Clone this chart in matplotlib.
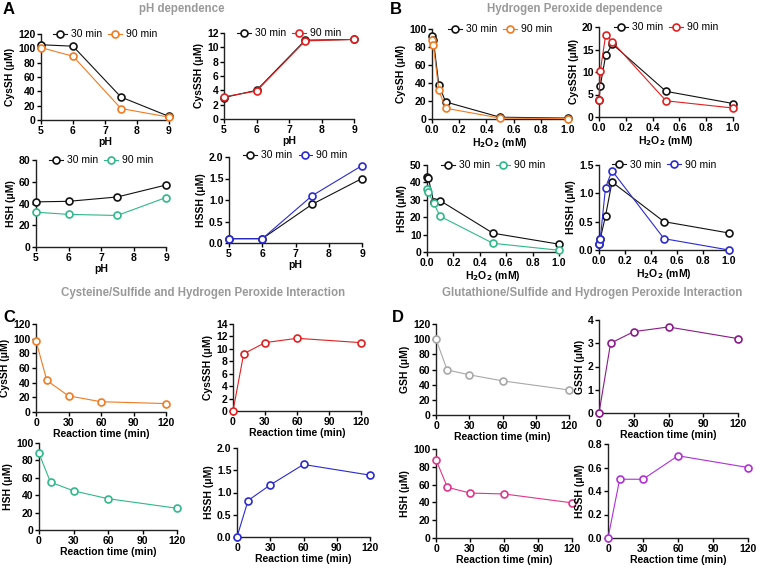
import matplotlib
matplotlib.use("Agg")
import matplotlib.pyplot as plt

plt.rcParams["font.family"] = ["Liberation Sans", "DejaVu Sans"]
plt.rcParams["font.size"] = 7.5

# ---- data ----
ph = [5, 6, 7.5, 9]
h2o2 = [0, 0.01, 0.05, 0.1, 0.5, 1.0]
rtime = [0, 10, 30, 60, 120]

a_cyssh_30 = [105, 103, 32, 5]
a_cyssh_90 = [101, 89, 16, 4]
a_cysssh_30 = [3.0, 4.0, 11.0, 11.1]
a_cysssh_90 = [3.1, 3.9, 10.9, 11.1]
a_hsh_30 = [41.5, 42, 46, 57]
a_hsh_90 = [32, 30, 29, 45.5]
a_hssh_30 = [0.1, 0.1, 0.9, 1.5]
a_hssh_90 = [0.1, 0.1, 1.1, 1.8]

b_cyssh_30 = [92, 88, 38, 19, 2, 1]
b_cyssh_90 = [88, 82, 32, 12, 1, 0.5]
b_cysssh_30 = [3.8, 7.0, 13.7, 16.2, 5.7, 3.0]
b_cysssh_90 = [3.8, 10.3, 18.3, 16.7, 3.6, 2.0]
b_hsh_30 = [43, 42.5, 29, 29.5, 10.8, 4.5]
b_hsh_90 = [36, 34.5, 28, 20.5, 5, 1]
b_hssh_30 = [0.1, 0.2, 0.6, 1.2, 0.5, 0.3]
b_hssh_90 = [0.1, 0.2, 1.1, 1.4, 0.2, 0.0]

c_cyssh = [97, 43, 22, 14, 11.5]
c_cysssh = [0, 9.2, 11, 11.7, 11]
c_hsh = [88, 55, 45, 36, 25]
c_hssh = [0, 0.82, 1.17, 1.63, 1.39]

d_gsh = [100, 59.5, 53, 45, 33]
d_gssh = [0, 3.0, 3.5, 3.7, 3.2]
d_hsh = [88, 57, 50.5, 49.5, 39.5]
d_hssh = [0, 0.5, 0.5, 0.7, 0.6]

BLACK = "#111111"
ORANGE = "#f07b22"
RED = "#e02020"
GREEN = "#2fb88a"
BLUE = "#2a2ad2"
GRAY = "#a8a8a8"
PURPLE = "#8a1a8a"
PINK = "#e0358a"
VIOLET = "#b030d8"

W, H = 760, 570
fig = plt.figure(figsize=(W / 100, H / 100), dpi=100)


def px_axes(left, right, top, bottom):
    return fig.add_axes([left / W, 1 - bottom / H, (right - left) / W, (bottom - top) / H])


def style(ax, xlim, ylim, xticks, yticks, xlabel, ylabel, xfmt=None, yfmt=None):
    ax.set_xlim(xlim)
    ax.set_ylim(ylim)
    ax.set_xticks(xticks)
    ax.set_yticks(yticks)
    if xfmt:
        ax.set_xticklabels([xfmt.format(v) for v in xticks])
    if yfmt:
        ax.set_yticklabels([yfmt.format(v) for v in yticks])
    for s in ["top", "right"]:
        ax.spines[s].set_visible(False)
    for s in ["left", "bottom"]:
        ax.spines[s].set_linewidth(1.0)
        ax.spines[s].set_color("#222222")
    ax.tick_params(direction="out", length=3, width=1.0, pad=1, labelsize=7.5)
    for lab in ax.get_xticklabels() + ax.get_yticklabels():
        lab.set_fontweight("bold")
    ax.set_xlabel(xlabel, fontweight="bold", fontsize=7.5, labelpad=1)
    ax.set_ylabel(ylabel, fontweight="bold", fontsize=7.5, labelpad=2)
    ax.patch.set_alpha(0)


def line(ax, x, y, color, label=None, z=3):
    ax.plot(x, y, color=color, lw=0.8, marker="o", ms=5, mfc="white",
            mec=color, mew=1.2, label=label, zorder=z, clip_on=False)


def legend(ax, y=0.94):
    ax.legend(loc="lower center", bbox_to_anchor=(0.5, y), ncol=2, frameon=False,
              handlelength=1.3, handletextpad=0.4, columnspacing=0.6,
              fontsize=7.5, borderaxespad=0, borderpad=0)


h2o2_lab = "H$_\\mathbf{2}$O$_\\mathbf{2}$ (mM)"

# ---- A ----
ax = px_axes(41, 169, 34, 120)
line(ax, ph, a_cyssh_30, BLACK, "30 min")
line(ax, ph, a_cyssh_90, ORANGE, "90 min")
style(ax, (5, 9), (0, 120), [5, 6, 7, 8, 9], range(0, 121, 20), "pH", "CysSH (\u03bcM)")
legend(ax)

ax = px_axes(224, 354, 33, 119)
line(ax, ph, a_cysssh_30, BLACK, "30 min")
line(ax, ph, a_cysssh_90, RED, "90 min")
style(ax, (5, 9), (0, 12), [5, 6, 7, 8, 9], range(0, 13, 2), "pH", "CysSSH (\u03bcM)")
legend(ax)

ax = px_axes(36, 166, 160, 247)
line(ax, ph, a_hsh_30, BLACK, "30 min")
line(ax, ph, a_hsh_90, GREEN, "90 min")
style(ax, (5, 9), (0, 80), [5, 6, 7, 8, 9], range(0, 81, 20), "pH", "HSH (\u03bcM)")
legend(ax)

ax = px_axes(229, 362, 157, 243)
line(ax, ph, a_hssh_30, BLACK, "30 min")
line(ax, ph, a_hssh_90, BLUE, "90 min")
style(ax, (5, 9), (0, 2), [5, 6, 7, 8, 9], [0, 0.5, 1.0, 1.5, 2.0], "pH", "HSSH (\u03bcM)",
      yfmt="{:.1f}")
legend(ax, 0.96)

# ---- B ----
ax = px_axes(432, 568, 29, 119)
line(ax, h2o2, b_cyssh_30, BLACK, "30 min")
line(ax, h2o2, b_cyssh_90, ORANGE, "90 min")
style(ax, (0, 1), (0, 100), [0, 0.2, 0.4, 0.6, 0.8, 1.0], range(0, 101, 20), h2o2_lab,
      "CysSH (\u03bcM)", xfmt="{:.1f}")
legend(ax)

ax = px_axes(599, 733, 27, 117)
line(ax, h2o2, b_cysssh_30, BLACK, "30 min")
line(ax, h2o2, b_cysssh_90, RED, "90 min")
style(ax, (0, 1), (0, 20), [0, 0.2, 0.4, 0.6, 0.8, 1.0], range(0, 21, 5), h2o2_lab,
      "CysSSH (\u03bcM)", xfmt="{:.1f}")
legend(ax)

ax = px_axes(427, 559, 165, 252)
line(ax, h2o2, b_hsh_30, BLACK, "30 min")
line(ax, h2o2, b_hsh_90, GREEN, "90 min")
style(ax, (0, 1), (0, 50), [0, 0.2, 0.4, 0.6, 0.8, 1.0], range(0, 51, 10), h2o2_lab,
      "HSH (\u03bcM)", xfmt="{:.1f}")
legend(ax)

ax = px_axes(599, 729, 165, 250)
line(ax, h2o2, b_hssh_30, BLACK, "30 min")
line(ax, h2o2, b_hssh_90, BLUE, "90 min")
style(ax, (0, 1), (0, 1.5), [0, 0.2, 0.4, 0.6, 0.8, 1.0], [0, 0.5, 1.0, 1.5], h2o2_lab,
      "HSSH (\u03bcM)", xfmt="{:.1f}", yfmt="{:.1f}")
legend(ax)

# ---- C ----
tt = [0, 30, 60, 90, 120]
rt_lab = "Reaction time (min)"
ax = px_axes(36, 166, 324, 412)
line(ax, rtime, c_cyssh, ORANGE)
style(ax, (0, 120), (0, 120), tt, range(0, 121, 20), rt_lab, "CysSH (\u03bcM)")

ax = px_axes(233, 361, 324, 411)
line(ax, rtime, c_cysssh, RED)
style(ax, (0, 120), (0, 14), tt, range(0, 15, 2), rt_lab, "CysSSH (\u03bcM)")

ax = px_axes(39, 177, 443, 530)
line(ax, rtime, c_hsh, GREEN)
style(ax, (0, 120), (0, 100), tt, range(0, 101, 20), rt_lab, "HSH (\u03bcM)")

ax = px_axes(237, 370, 448, 537)
line(ax, rtime, c_hssh, BLUE)
style(ax, (0, 120), (0, 2), tt, [0, 0.5, 1.0, 1.5, 2.0], rt_lab, "HSSH (\u03bcM)", yfmt="{:.1f}")

# ---- D ----
ax = px_axes(436, 569, 324, 415)
line(ax, rtime, d_gsh, GRAY)
style(ax, (0, 120), (0, 120), tt, range(0, 121, 20), rt_lab, "GSH (\u03bcM)")

ax = px_axes(599, 738, 320, 413)
line(ax, rtime, d_gssh, PURPLE)
style(ax, (0, 120), (0, 4), tt, range(0, 5, 1), rt_lab, "GSSH (\u03bcM)")

ax = px_axes(436, 572, 449, 538)
line(ax, rtime, d_hsh, PINK)
style(ax, (0, 120), (0, 100), tt, range(0, 101, 20), rt_lab, "HSH (\u03bcM)")

ax = px_axes(608, 748, 444, 538)
line(ax, rtime, d_hssh, VIOLET)
style(ax, (0, 120), (0, 0.8), tt, [0, 0.2, 0.4, 0.6, 0.8], rt_lab, "HSSH (\u03bcM)", yfmt="{:.1f}")

# ---- titles and panel letters ----
title_kw = dict(color="#999999", fontweight="bold", fontsize=8.3, ha="center", va="center")
fig.text(182 / W, 1 - 9 / H, "pH dependence", **title_kw)
fig.text(575 / W, 1 - 9 / H, "Hydrogen Peroxide dependence", **title_kw)
fig.text(203 / W, 1 - 293 / H, "Cysteine/Sulfide and Hydrogen Peroxide Interaction", **title_kw)
fig.text(592 / W, 1 - 293 / H, "Glutathione/Sulfide and Hydrogen Peroxide Interaction", **title_kw)

letter_kw = dict(fontweight="bold", fontsize=12, ha="left", va="center")
fig.text(3 / W, 1 - 9 / H, "A", **letter_kw)
fig.text(390 / W, 1 - 9 / H, "B", **letter_kw)
fig.text(3 / W, 1 - 317 / H, "C", **letter_kw)
fig.text(392 / W, 1 - 317 / H, "D", **letter_kw)

fig.savefig("out.png", dpi=100)
